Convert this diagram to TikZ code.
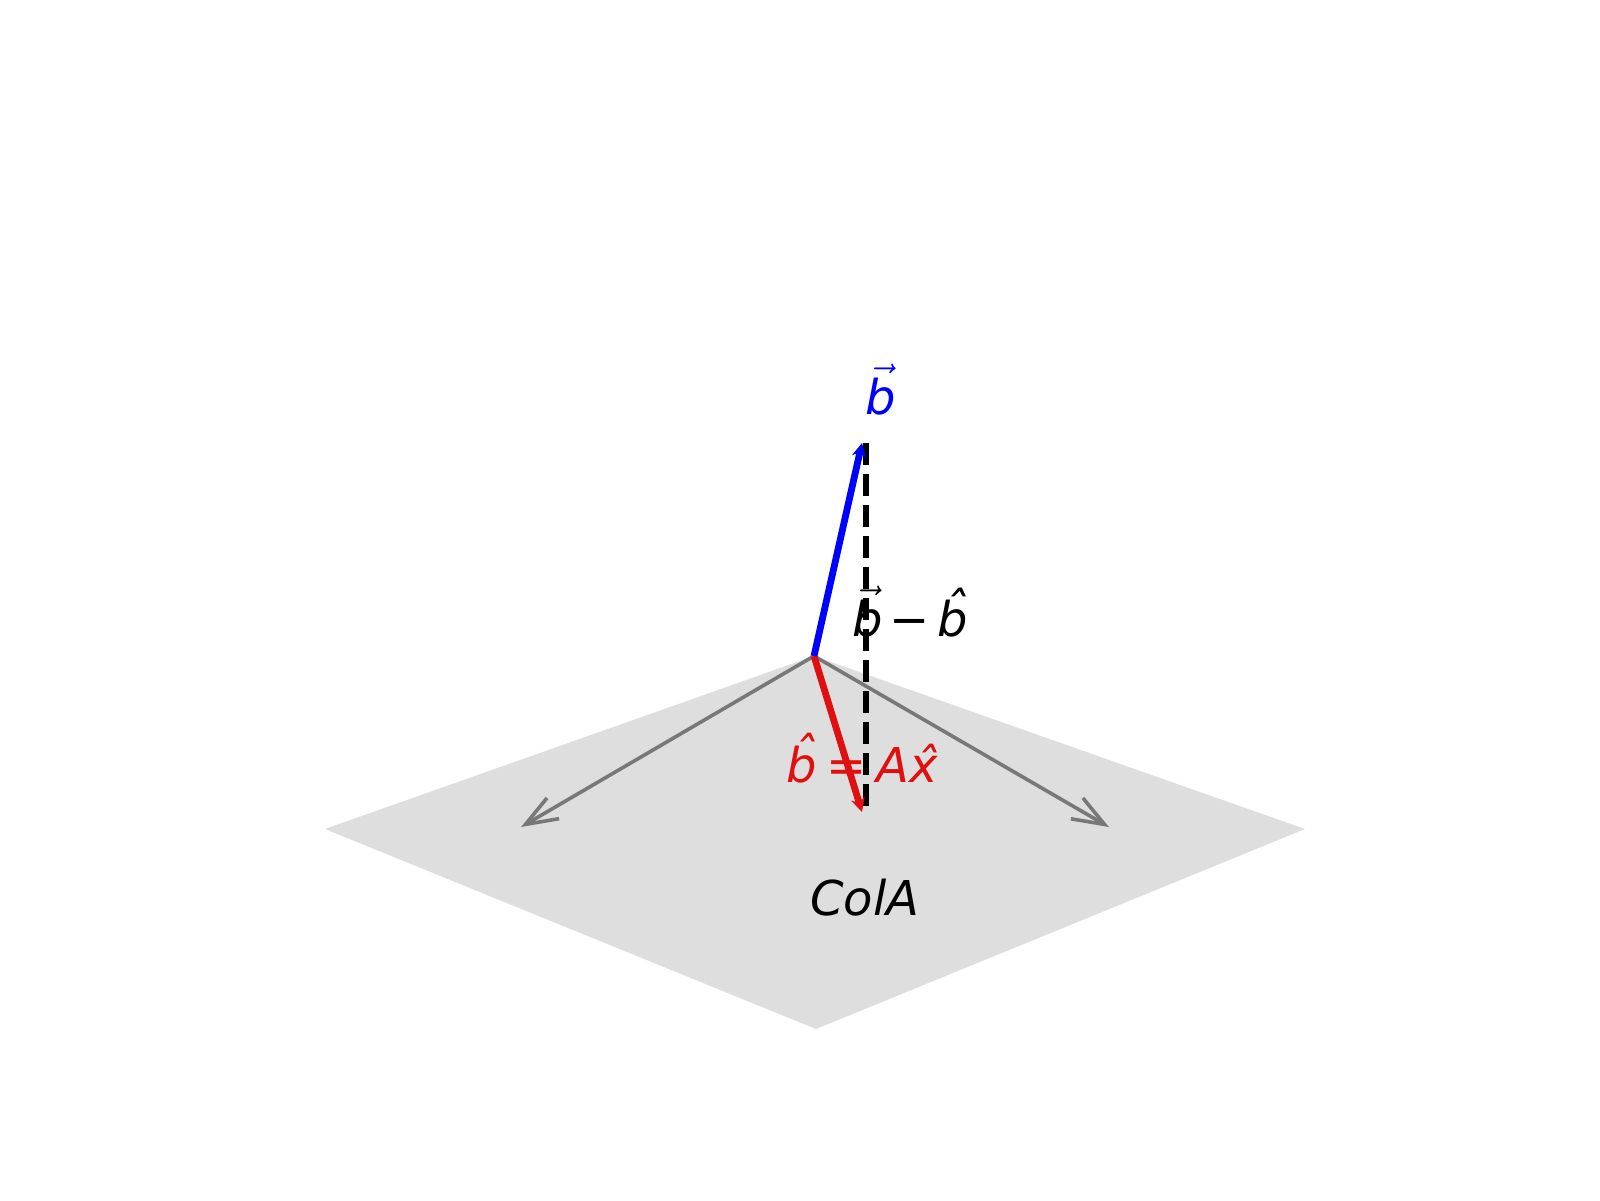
\documentclass[tikz,border=0pt]{standalone}
\usepackage{fontspec}
\setmainfont{DejaVu Sans}
\usetikzlibrary{arrows.meta}
\definecolor{planegray}{RGB}{222,222,222}
\definecolor{axisgray}{RGB}{120,120,120}
\definecolor{vred}{RGB}{224,16,16}
\definecolor{vblue}{RGB}{0,0,255}
\newcommand{\hatup}[2]{\leavevmode\ooalign{#1\cr\hidewidth\raisebox{#2}{\kern0.12em ˆ}\hidewidth\cr}}
\newcommand{\vecb}{$\vec{\mbox{\itshape b}}$}
\begin{document}
\begin{tikzpicture}[x=0.5pt,y=-0.5pt,
  lbl/.style={font=\fontsize{24}{28}\selectfont\itshape, inner sep=0pt},
  axisarrow/.style={draw=axisgray, line width=1.8pt, line cap=round,
     -{Straight Barb[length=16pt,width=12pt,line width=1.8pt]}},
  vecarrow/.style={line width=3.4pt, -{Stealth[length=7pt,width=7pt]}},
  residual/.style={draw=black, line width=3.2pt, dash pattern=on 11pt off 4.5pt}]
\useasboundingbox (0,0) rectangle (1600,1200);
\coordinate (O) at (814,656);
\coordinate (L) at (325,829);
\coordinate (R) at (1305,829);
\coordinate (B) at (816,1029);
\coordinate (e1) at (521,827);
\coordinate (e2) at (1109,827);
\coordinate (bt) at (862,443);
\coordinate (bh) at (862,812);
\coordinate (dt) at (866,443);
\coordinate (db) at (866,812);
\fill[planegray] (O) -- (R) -- (B) -- (L) -- cycle;
\draw[axisarrow] (O) -- (e1);
\draw[axisarrow] (O) -- (e2);
\node[lbl] (cola) at (865,898) {ColA};
\node[lbl, text=vred] (lbh) at (862,764) {\hatup{b}{0.22em}\kern0.2em=\kern0.2em A\hatup{x}{0em}};
\node[lbl] (lres) at (910,612) {\vecb\kern0.15em−\kern0.15em\hatup{b}{0.22em}};
\node[lbl, text=vblue] (lb) at (881,390) {\vecb};
\draw[residual] (dt) -- (db);
\draw[vecarrow, vred] (O) -- (bh);
\draw[vecarrow, vblue] (O) -- (bt);
\end{tikzpicture}
\end{document}
